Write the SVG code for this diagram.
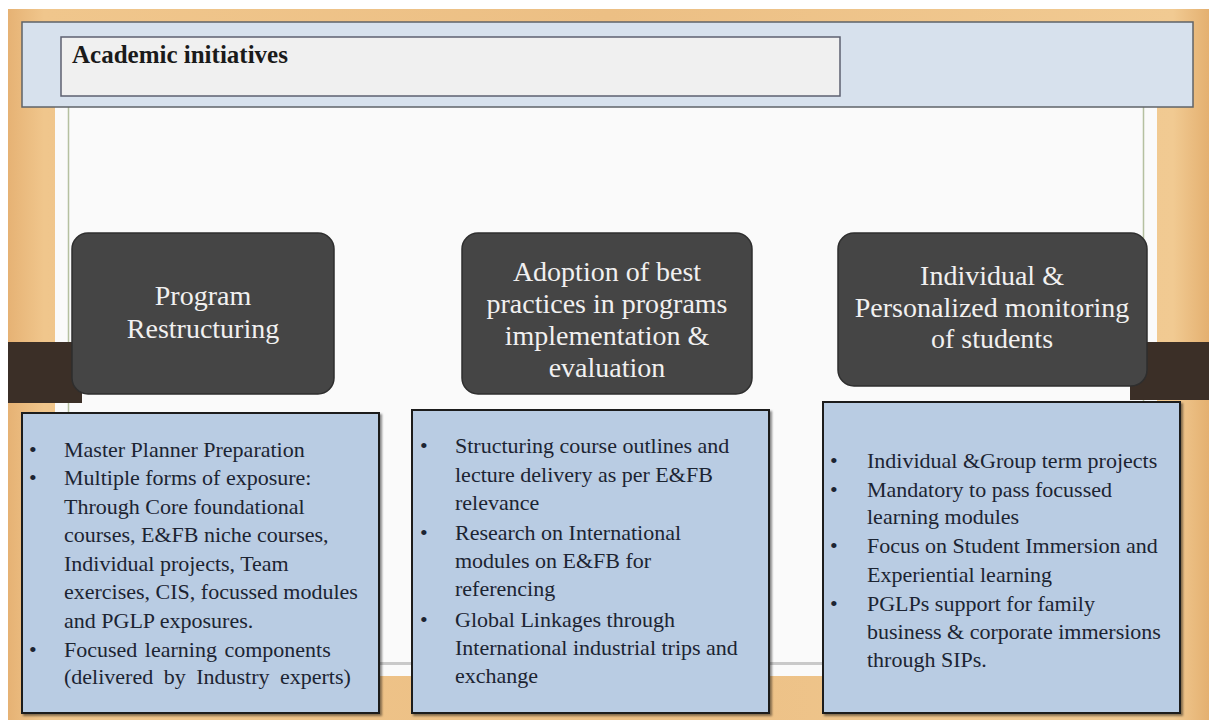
<svg xmlns="http://www.w3.org/2000/svg" width="1209" height="720" viewBox="0 0 1209 720">
  <defs>
    <linearGradient id="wood" x1="0" y1="0" x2="1" y2="0">
      <stop offset="0" stop-color="#e6b274"/>
      <stop offset="0.03" stop-color="#f0c68c"/>
      <stop offset="0.5" stop-color="#ecbf84"/>
      <stop offset="0.97" stop-color="#f1ca92"/>
      <stop offset="1" stop-color="#e4b070"/>
    </linearGradient>
    <filter id="sh" x="-5%" y="-5%" width="110%" height="110%">
      <feDropShadow dx="2" dy="2" stdDeviation="1.2" flood-color="#000" flood-opacity="0.45"/>
    </filter>
  </defs>
  <style>
    .head { fill: #f1f0f0; font-family: "Liberation Serif", "Times New Roman", serif; font-size: 28px; text-anchor: middle; }
    .dark { fill: #454545; stroke: #2e2e2e; stroke-width: 1.5; }
    .list { fill: #b9cce3; stroke: #1e1e1e; stroke-width: 2; }
    .item { fill: #1c2432; font-family: "Liberation Serif", "Times New Roman", serif; font-size: 22px; }
    .bul { fill: #1c2432; font-family: "Liberation Serif", "Times New Roman", serif; font-size: 22px; }
    .bar { fill: #3b2f27; }
  </style>

  <!-- background -->
  <rect x="0" y="0" width="1209" height="720" fill="#ffffff"/>
  <rect x="8" y="9" width="1201" height="711" fill="url(#wood)"/>

  <!-- board -->
  <g id="board">
    <rect x="55" y="100" width="1102" height="576" fill="#fafafa"/>
    <line x1="68.5" y1="107" x2="68.5" y2="663" stroke="#b5c0a0" stroke-width="1.5"/>
    <line x1="1143.5" y1="107" x2="1143.5" y2="663" stroke="#b5c0a0" stroke-width="1.5"/>
    <rect x="55" y="662" width="1102" height="3" fill="#c9c9c9"/>
  </g>

  <!-- header -->
  <g id="header">
    <rect x="22" y="22" width="1171" height="85" fill="#d7e1ed" stroke="#5f6368" stroke-width="1.5"/>
    <rect x="61" y="37" width="779" height="59" fill="#f0f0f0" stroke="#5d6070" stroke-width="1.5"/>
    <text x="72" y="63" font-family="'Liberation Serif', 'Times New Roman', serif" font-size="25" font-weight="bold" fill="#1a1a1a">Academic initiatives</text>
  </g>

  <!-- side bars -->
  <g id="bars">
    <rect class="bar" x="8" y="342" width="74" height="61"/>
    <rect class="bar" x="1130" y="342" width="79" height="58"/>
  </g>

  <!-- connectors: none drawn in the picture -->
  <g id="connectors"></g>

  <g id="node-program">
    <rect class="dark" x="72" y="233" width="262" height="161" rx="16" ry="16"/>
    <text class="head" x="203" y="305">Program</text>
    <text class="head" x="203" y="338">Restructuring</text>
  </g>

  <g id="node-adoption">
    <rect class="dark" x="462" y="233" width="290" height="161" rx="16" ry="16"/>
    <text class="head" x="607" y="281">Adoption of best</text>
    <text class="head" x="607" y="313">practices in programs</text>
    <text class="head" x="607" y="345">implementation &amp;</text>
    <text class="head" x="607" y="377">evaluation</text>
  </g>

  <g id="node-individual">
    <rect class="dark" x="838" y="233" width="309" height="153" rx="16" ry="16"/>
    <text class="head" x="992" y="285">Individual &amp;</text>
    <text class="head" x="992" y="317">Personalized monitoring</text>
    <text class="head" x="992" y="348">of students</text>
  </g>

  <g id="list-program">
    <rect class="list" x="22" y="413" width="357" height="300" filter="url(#sh)"/>
    <text class="bul" x="29" y="457">•</text>
    <text class="bul" x="29" y="485">•</text>
    <text class="bul" x="29" y="657">•</text>
    <text class="item" x="64" y="457">Master Planner Preparation</text>
    <text class="item" x="64" y="485">Multiple  forms of exposure:</text>
    <text class="item" x="64" y="514">Through Core foundational</text>
    <text class="item" x="64" y="542">courses, E&amp;FB niche courses,</text>
    <text class="item" x="64" y="571">Individual projects, Team</text>
    <text class="item" x="64" y="599">exercises, CIS, focussed modules</text>
    <text class="item" x="64" y="628">and PGLP exposures.</text>
    <text class="item" x="64" y="657" word-spacing="2">Focused learning components</text>
    <text class="item" x="64" y="684" font-size="18.5" word-spacing="5">(delivered by Industry experts)</text>
  </g>

  <g id="list-adoption">
    <rect class="list" x="412" y="410" width="357" height="303" filter="url(#sh)"/>
    <text class="bul" x="420" y="453">•</text>
    <text class="bul" x="420" y="540">•</text>
    <text class="bul" x="420" y="627">•</text>
    <text class="item" x="455" y="453">Structuring course outlines and</text>
    <text class="item" x="455" y="482">lecture delivery as per E&amp;FB</text>
    <text class="item" x="455" y="510">relevance</text>
    <text class="item" x="455" y="540">Research on International</text>
    <text class="item" x="455" y="568">modules on E&amp;FB for</text>
    <text class="item" x="455" y="596">referencing</text>
    <text class="item" x="455" y="627">Global Linkages through</text>
    <text class="item" x="455" y="655">International industrial trips and</text>
    <text class="item" x="455" y="683">exchange</text>
  </g>

  <g id="list-individual">
    <rect class="list" x="823" y="402" width="357" height="311" filter="url(#sh)"/>
    <text class="bul" x="830" y="468">•</text>
    <text class="bul" x="830" y="497">•</text>
    <text class="bul" x="830" y="553">•</text>
    <text class="bul" x="830" y="611">•</text>
    <text class="item" x="867" y="468">Individual &amp;Group term projects</text>
    <text class="item" x="867" y="497">Mandatory to pass focussed</text>
    <text class="item" x="867" y="524">learning modules</text>
    <text class="item" x="867" y="553">Focus on Student Immersion and</text>
    <text class="item" x="867" y="582">Experiential learning</text>
    <text class="item" x="867" y="611">PGLPs support for family</text>
    <text class="item" x="867" y="639">business &amp; corporate immersions</text>
    <text class="item" x="867" y="667">through SIPs.</text>
  </g>
</svg>
